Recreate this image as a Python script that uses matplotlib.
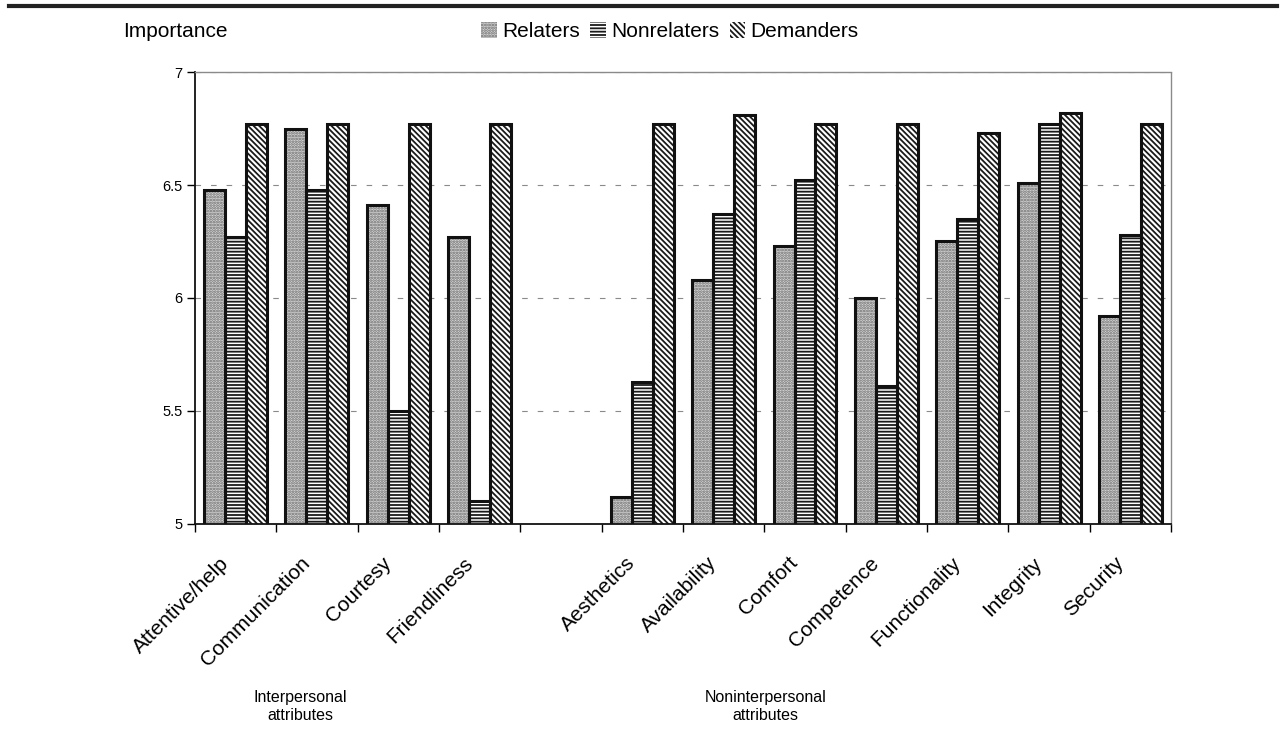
import numpy as np
import matplotlib
matplotlib.use("Agg")
import matplotlib.pyplot as plt
from matplotlib.patches import Patch
from matplotlib.lines import Line2D
import matplotlib.transforms as mtransforms

# Attribute importance by customer segment
interpersonal = ["Attentive/help", "Communication", "Courtesy", "Friendliness"]
noninterpersonal = ["Aesthetics", "Availability", "Comfort", "Competence",
                    "Functionality", "Integrity", "Security"]
series_names = ["Relaters", "Nonrelaters", "Demanders"]
relaters = [6.48, 6.75, 6.41, 6.27, 5.12, 6.08, 6.23, 6.00, 6.25, 6.51, 5.92]
nonrelaters = [6.27, 6.48, 5.50, 5.10, 5.63, 6.37, 6.52, 5.61, 6.35, 6.77, 6.28]
demanders = [6.77, 6.77, 6.77, 6.77, 6.77, 6.81, 6.77, 6.77, 6.73, 6.82, 6.77]
y_ticks = [5, 5.5, 6, 6.5, 7]
y_tick_labels = ["5", "5.5", "6", "6.5", "7"]
group_labels = ["Interpersonal\nattributes", "Noninterpersonal\nattributes"]

plt.rcParams["font.family"] = ["Liberation Sans", "DejaVu Sans"]
plt.rcParams["hatch.linewidth"] = 1.3

fig = plt.figure(figsize=(12.86, 7.40), dpi=100)
ax = fig.add_axes([0.1516, 0.2919, 0.759, 0.6108])

# one empty slot separates the two attribute groups
n_inter = len(interpersonal)
x = np.concatenate([np.arange(n_inter),
                    np.arange(len(noninterpersonal)) + n_inter + 1])
labels = interpersonal + noninterpersonal
n_slots = n_inter + 1 + len(noninterpersonal)

width = 0.258
styles = [
    dict(hatch="......", face="#d6d6d6", hcolor="#6a6a6a"),
    dict(hatch="-----", face="white", hcolor="#1a1a1a"),
    dict(hatch="\\\\\\\\\\\\", face="white", hcolor="#1a1a1a"),
]
data = [relaters, nonrelaters, demanders]
for k, (vals, st) in enumerate(zip(data, styles)):
    pos = x + (k - 1) * width
    ax.bar(pos, vals, width=width, color=st["face"], edgecolor=st["hcolor"],
           hatch=st["hatch"], linewidth=0, zorder=2)
    ax.bar(pos, vals, width=width, fill=False, edgecolor="#111111",
           linewidth=2.2, zorder=3)

ax.set_xlim(-0.5, n_slots - 0.5)
ax.set_ylim(5, 7)
ax.set_yticks(y_ticks)
ax.set_yticklabels(y_tick_labels, fontsize=10.5)
ax.tick_params(axis="y", direction="out", length=6, width=1, pad=3)

ax.set_xticks(x)
ax.set_xticklabels(labels, fontsize=15, rotation=45, ha="right",
                   va="center", rotation_mode="anchor")
ax.set_xticks(np.arange(n_slots + 1) - 0.5, minor=True)
ax.tick_params(axis="x", which="major", length=0, pad=26)
ax.tick_params(axis="x", which="minor", direction="out", length=6, width=1)
shift = mtransforms.ScaledTranslation(-0.10, 0, fig.dpi_scale_trans)
for lab in ax.get_xticklabels():
    lab.set_transform(lab.get_transform() + shift)

ax.yaxis.grid(True, linestyle=(0, (5, 9)), color="#8a8a8a", linewidth=0.8)
ax.set_axisbelow(True)

for side in ("left", "bottom"):
    ax.spines[side].set_color("#111111")
    ax.spines[side].set_linewidth(1.3)
for side in ("top", "right"):
    ax.spines[side].set_color("#8a8a8a")
    ax.spines[side].set_linestyle((0, (1, 1)))
    ax.spines[side].set_linewidth(1.0)

handles = [Patch(facecolor=st["face"], edgecolor=st["hcolor"], hatch=st["hatch"],
                 linewidth=0) for st in styles]
fig.legend(handles, series_names, loc="center", bbox_to_anchor=(0.521, 0.957),
           ncol=3, frameon=False, fontsize=15, handlelength=0.75, handleheight=0.75,
           handletextpad=0.25, columnspacing=0.5, borderpad=0)

fig.text(0.096, 0.957, "Importance", fontsize=15, ha="left", va="center")

fig.text(0.2333, 0.045, group_labels[0], fontsize=11.5, ha="center", va="center",
         linespacing=1.25)
fig.text(0.595, 0.045, group_labels[1], fontsize=11.5, ha="center", va="center",
         linespacing=1.25)

fig.add_artist(Line2D([0.007, 0.993], [0.9925, 0.9925], color="#222222",
                      linewidth=3, transform=fig.transFigure))

fig.savefig("out.png", dpi=100)
